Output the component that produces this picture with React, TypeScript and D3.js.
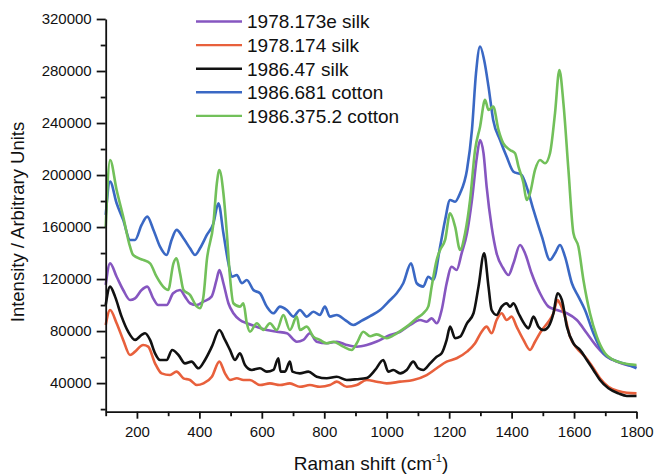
import React, { useEffect, useRef } from "react";
import * as d3 from "d3";

const W = 655;
const H = 476;

// axis ticks
const xTicks = [200, 400, 600, 800, 1000, 1200, 1400, 1600, 1800];
const xMinor = [100, 300, 500, 700, 900, 1100, 1300, 1500, 1700];
const yTicks = [40000, 80000, 120000, 160000, 200000, 240000, 280000, 320000];
const yMinor = [20000, 60000, 100000, 140000, 180000, 220000, 260000, 300000];

const seriesNames = ["1978.173e silk", "1978.174 silk", "1986.47 silk", "1986.681 cotton", "1986.375.2 cotton"];
const seriesColors = ["#8656c0", "#e8603c", "#111111", "#3a68c4", "#72c05a"];

// 1978.173e silk
const silk173eShift = [100, 114, 135, 156, 178, 194, 215, 233, 252, 268, 295, 316, 338, 354, 370, 391, 413, 439, 455, 464, 477, 493, 509, 530, 552, 583, 616, 648, 680, 712, 733, 754, 776, 808, 840, 872, 904, 936, 968, 1011, 1043, 1075, 1107, 1128, 1144, 1160, 1176, 1192, 1208, 1224, 1240, 1257, 1273, 1289, 1299, 1310, 1320, 1336, 1352, 1373, 1390, 1406, 1427, 1443, 1464, 1491, 1518, 1545, 1577, 1609, 1641, 1673, 1705, 1737, 1769, 1800];
const silk173eValue = [115500, 132100, 121800, 111600, 103900, 105200, 111600, 114200, 105200, 100100, 100100, 109100, 111600, 106500, 101400, 100100, 102600, 106500, 119300, 127000, 116800, 101400, 93700, 88500, 86000, 83400, 80800, 79500, 78300, 71800, 73200, 78300, 71800, 70600, 71800, 69300, 68000, 69300, 72000, 77000, 79500, 84700, 88500, 87200, 89800, 86000, 96200, 116800, 129500, 127000, 139800, 155200, 180800, 214200, 227000, 216800, 191100, 160300, 139800, 128300, 123100, 132100, 146200, 139800, 124500, 109100, 98800, 96200, 93700, 88500, 78300, 68000, 60300, 56500, 53900, 52600];

// 1978.174 silk
const silk174Shift = [100, 114, 135, 156, 178, 194, 220, 236, 258, 279, 306, 327, 349, 370, 392, 413, 440, 464, 482, 498, 520, 541, 562, 594, 626, 658, 690, 722, 754, 786, 818, 840, 872, 904, 936, 968, 1000, 1043, 1085, 1128, 1160, 1192, 1224, 1257, 1283, 1304, 1320, 1336, 1352, 1368, 1384, 1400, 1416, 1438, 1459, 1475, 1497, 1518, 1534, 1547, 1553, 1571, 1587, 1609, 1635, 1662, 1683, 1710, 1742, 1769, 1800];
const silk174Value = [84700, 96200, 86000, 73200, 61600, 64200, 69300, 68000, 55200, 47500, 46200, 48800, 43700, 42400, 38500, 39800, 44900, 56500, 47500, 42400, 43700, 42400, 42400, 38500, 39800, 38500, 39800, 37200, 38500, 37200, 38500, 41100, 37200, 38500, 42400, 41100, 39800, 41100, 42400, 46200, 51400, 56500, 59100, 64200, 70600, 79500, 83400, 78300, 88500, 93700, 88500, 91100, 83400, 73200, 65500, 71800, 80800, 87200, 93700, 103900, 102000, 91100, 75700, 66800, 60300, 51400, 43700, 37200, 33900, 32600, 32100];

// 1986.47 silk
const silk47Shift = [100, 114, 130, 151, 172, 194, 215, 226, 242, 258, 274, 295, 313, 333, 354, 375, 397, 418, 440, 464, 482, 498, 514, 530, 546, 568, 594, 616, 637, 653, 660, 674, 690, 698, 722, 749, 776, 808, 840, 872, 904, 936, 963, 989, 1005, 1021, 1043, 1064, 1085, 1101, 1117, 1139, 1160, 1176, 1192, 1203, 1219, 1235, 1257, 1278, 1294, 1312, 1326, 1336, 1352, 1368, 1384, 1395, 1406, 1422, 1443, 1454, 1470, 1486, 1502, 1518, 1534, 1547, 1561, 1577, 1598, 1619, 1641, 1662, 1683, 1710, 1742, 1769, 1800];
const silk47Value = [100100, 114200, 106500, 91100, 79500, 73200, 77000, 78300, 73200, 62900, 57800, 57800, 65500, 61600, 55200, 56500, 51400, 57800, 68000, 80800, 73200, 65500, 57800, 62900, 53900, 50100, 51400, 48800, 50100, 59100, 48800, 48800, 56500, 48800, 47500, 48800, 44900, 43700, 44900, 42400, 43000, 44000, 50100, 57800, 48800, 50100, 47500, 50100, 56500, 51400, 50100, 55200, 60300, 62900, 73200, 83400, 74500, 75700, 86000, 93700, 114200, 139800, 114200, 96200, 92400, 98800, 101400, 98800, 101400, 93700, 84700, 82100, 91100, 83400, 80800, 83400, 93700, 109100, 103900, 83400, 70600, 65500, 57800, 50100, 42400, 36000, 32100, 30100, 30100];

// 1986.681 cotton
const cotton681Shift = [100, 114, 135, 156, 178, 194, 215, 233, 253, 274, 295, 311, 327, 349, 370, 386, 402, 424, 445, 461, 477, 493, 504, 520, 536, 552, 573, 594, 616, 637, 658, 680, 701, 722, 744, 765, 786, 802, 818, 840, 867, 893, 920, 947, 979, 1011, 1032, 1053, 1078, 1096, 1117, 1133, 1149, 1171, 1187, 1203, 1219, 1235, 1257, 1273, 1286, 1299, 1312, 1326, 1341, 1363, 1384, 1406, 1432, 1448, 1470, 1497, 1523, 1539, 1555, 1571, 1593, 1614, 1635, 1662, 1694, 1726, 1758, 1800];
const cotton681Value = [169300, 194900, 178300, 165500, 150100, 150100, 161600, 168000, 157800, 144900, 138500, 150100, 157800, 151400, 143700, 138500, 143700, 153900, 162900, 178300, 155200, 132100, 121800, 123100, 116800, 119300, 111600, 109100, 98800, 93700, 98800, 96200, 91100, 96200, 91100, 94900, 92400, 98800, 91100, 92400, 88500, 84700, 88000, 91500, 96200, 103900, 109100, 116800, 132100, 116800, 114200, 121800, 119300, 144900, 165500, 180800, 179500, 186000, 203900, 234700, 278300, 298800, 288500, 268000, 242400, 227000, 214200, 202600, 200100, 191100, 173200, 152600, 134700, 139800, 146200, 137200, 116800, 106500, 96200, 78300, 62900, 57800, 55200, 51400];

// 1986.375.2 cotton
const cotton375Shift = [100, 114, 135, 156, 178, 188, 220, 242, 263, 284, 300, 317, 327, 338, 349, 370, 392, 402, 413, 424, 445, 456, 464, 477, 488, 498, 509, 530, 541, 552, 562, 584, 605, 626, 648, 669, 690, 712, 722, 744, 765, 786, 808, 829, 861, 888, 904, 925, 947, 968, 1000, 1032, 1064, 1096, 1117, 1133, 1144, 1160, 1171, 1187, 1203, 1219, 1235, 1251, 1267, 1283, 1299, 1315, 1326, 1341, 1358, 1373, 1395, 1411, 1422, 1438, 1448, 1459, 1475, 1491, 1507, 1523, 1539, 1553, 1566, 1582, 1598, 1614, 1630, 1651, 1673, 1699, 1726, 1758, 1800];
const cotton375Value = [160000, 211600, 188500, 168000, 144900, 138500, 134700, 132100, 121800, 114200, 111600, 132100, 136000, 124500, 111600, 107800, 98800, 97500, 106500, 134700, 162900, 193700, 203900, 186000, 155200, 121800, 101400, 98800, 101400, 86000, 79500, 86000, 80800, 86000, 80800, 92400, 80800, 91100, 80800, 83400, 75700, 73200, 70600, 71800, 68000, 65500, 70600, 79500, 76000, 77500, 74500, 78300, 83400, 89800, 93700, 98800, 114200, 134700, 142400, 150100, 170600, 160300, 142400, 155200, 180800, 219300, 237200, 257800, 250100, 252600, 234700, 224500, 219300, 216800, 206500, 193700, 180800, 186000, 203900, 211600, 209100, 216800, 247500, 280800, 255200, 203900, 155200, 144900, 119300, 93700, 75700, 62900, 57800, 55200, 53900];

const seriesShift = [silk173eShift, silk174Shift, silk47Shift, cotton681Shift, cotton375Shift];
const seriesValue = [silk173eValue, silk174Value, silk47Value, cotton681Value, cotton375Value];

const FONT = "'Liberation Sans', Arial, Helvetica, sans-serif";

export default function App() {
  const ref = useRef<SVGSVGElement>(null);

  useEffect(() => {
    const svg = d3.select(ref.current);
    svg.selectAll("*").remove();

    const x = d3.scaleLinear().domain([100, 1800]).range([105.7, 636.5]);
    const y = d3.scaleLinear().domain([18000, 320000]).range([411.7, 19]);

    // curves
    const line = d3
      .line<[number, number]>()
      .x((d) => x(d[0]))
      .y((d) => y(d[1]))
      .curve(d3.curveMonotoneX);

    seriesShift.forEach((shift, i) => {
      const pts = shift.map((s, j) => [s, seriesValue[i][j]] as [number, number]);
      svg
        .append("path")
        .attr("d", line(pts))
        .attr("fill", "none")
        .attr("stroke", seriesColors[i])
        .attr("stroke-width", 2.6)
        .attr("stroke-linejoin", "round");
    });

    // y axis
    const gy = svg.append("g").attr("transform", `translate(${x(100)},0)`);
    gy.call(d3.axisLeft(y).tickValues(yMinor).tickSize(5).tickFormat(() => "")).select(".domain").remove();
    gy.append("g").call(
      d3.axisLeft(y).tickValues(yTicks).tickSize(9).tickSizeOuter(0).tickPadding(5).tickFormat(d3.format("d"))
    );

    // x axis
    const gx = svg.append("g").attr("transform", `translate(0,${y(18000)})`);
    gx.call(d3.axisBottom(x).tickValues(xMinor).tickSize(4.5).tickFormat(() => "")).select(".domain").remove();
    gx.append("g").call(
      d3.axisBottom(x).tickValues(xTicks).tickSize(7).tickSizeOuter(0).tickPadding(8).tickFormat(d3.format("d"))
    );

    svg.selectAll(".domain, .tick line").attr("stroke", "#111").attr("stroke-width", 1.8);
    svg.selectAll(".tick text").attr("font-family", FONT).attr("font-size", 15).attr("fill", "#111");

    // axis titles
    svg
      .append("text")
      .attr("transform", `translate(24,222) rotate(-90)`)
      .attr("text-anchor", "middle")
      .attr("font-family", FONT)
      .attr("font-size", 18.5)
      .attr("fill", "#111")
      .text("Intensity / Arbitrary Units");

    const xt = svg
      .append("text")
      .attr("x", 371)
      .attr("y", 470)
      .attr("text-anchor", "middle")
      .attr("font-family", FONT)
      .attr("font-size", 19)
      .attr("fill", "#111");
    xt.append("tspan").text("Raman shift (cm");
    xt.append("tspan").attr("dy", -8).attr("font-size", 11).text("-1");
    xt.append("tspan").attr("dy", 8).text(")");

    // legend
    const lg = svg.append("g");
    seriesNames.forEach((name, i) => {
      const ry = 21.5 + i * 23.6;
      lg.append("line")
        .attr("x1", 196)
        .attr("x2", 242)
        .attr("y1", ry)
        .attr("y2", ry)
        .attr("stroke", seriesColors[i])
        .attr("stroke-width", 2.4);
      lg.append("text")
        .attr("x", 247)
        .attr("y", ry + 6.8)
        .attr("font-family", FONT)
        .attr("font-size", 19)
        .attr("fill", "#111")
        .text(name);
    });
  }, []);

  return (
    <svg
      ref={ref}
      width={W}
      height={H}
      style={{ position: "absolute", left: 0, top: 0, background: "#fff", display: "block" }}
    />
  );
}
